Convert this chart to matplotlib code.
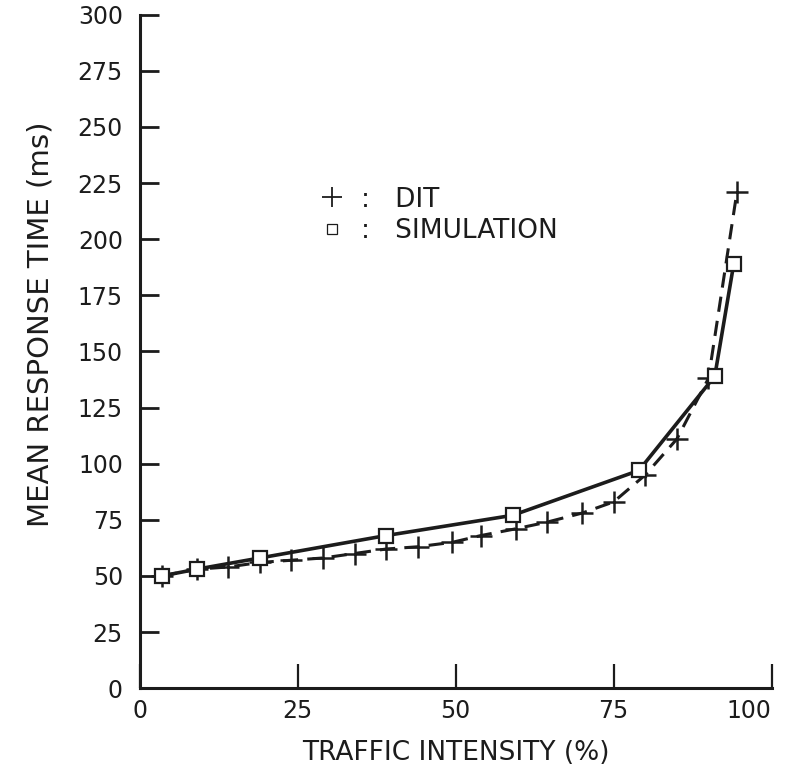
import matplotlib.pyplot as plt
from matplotlib.lines import Line2D

plt.rcParams['font.family'] = ['DejaVu Sans']

# simulation (squares, solid line)
sim_x = [3.5, 9, 19, 39, 59, 79, 91, 94]
sim_y = [50, 53, 58, 68, 77, 97, 139, 189]

# DIT (plus signs, dashed line)
dit_x = [3.5, 9, 14, 19, 24, 29, 34, 39, 44, 49.5, 54, 59.5, 64.5, 70, 75, 80, 85, 90, 94.5]
dit_y = [50, 53, 54, 56, 57, 58, 60, 62, 63, 65, 68, 71, 74, 78, 83, 95, 111, 138, 221]

x_ticks = [0, 25, 50, 75, 100]
y_ticks = [0, 25, 50, 75, 100, 125, 150, 175, 200, 225, 250, 275, 300]

ink = '#1c1c1c'

fig = plt.figure(figsize=(7.98, 7.75), dpi=100)
ax = fig.add_axes([0.175, 0.112, 0.792, 0.869])

ax.plot(dit_x, dit_y, color=ink, linewidth=2.2, dashes=(5, 3),
        marker='+', markersize=16, markeredgewidth=1.8)
ax.plot(sim_x, sim_y, color=ink, linewidth=2.6, linestyle='-',
        marker='s', markersize=10, markerfacecolor='white',
        markeredgecolor=ink, markeredgewidth=1.6)

ax.set_xlim(0, 100)
ax.set_ylim(0, 300)
ax.set_xticks(x_ticks)
ax.set_yticks(y_ticks)

for s in ['top', 'right']:
    ax.spines[s].set_visible(False)
for s in ['left', 'bottom']:
    ax.spines[s].set_linewidth(2.2)
    ax.spines[s].set_color(ink)
    ax.spines[s].set_clip_on(False)

ax.tick_params(axis='y', direction='in', length=14, width=2, colors=ink,
               labelsize=17, pad=12)
ax.tick_params(axis='x', direction='in', length=17, width=1.6, colors=ink,
               labelsize=17, pad=8)
# the 100 label sits a little left of its tick in the original
ax.get_xticklabels()[-1].set_horizontalalignment('right')
ax.get_xticklabels()[-1].set_x(100)

ax.set_xlabel('TRAFFIC INTENSITY (%)', fontsize=19, color=ink, labelpad=12)
ax.set_ylabel('MEAN RESPONSE TIME (ms)', fontsize=21, color=ink)
ax.yaxis.set_label_coords(-0.135, 0.54)

handles = [
    Line2D([], [], color=ink, linestyle='none', marker='+', markersize=14, markeredgewidth=1.3),
    Line2D([], [], color=ink, linestyle='none', marker='s', markersize=7,
           markerfacecolor='white', markeredgewidth=0.9),
]
ax.legend(handles, [':   DIT', ':   SIMULATION'], frameon=False, fontsize=19,
          loc='upper left', bbox_to_anchor=(0.25, 0.78), handlelength=0.8,
          handletextpad=0.7, labelspacing=0.2, labelcolor=ink)

fig.savefig('out.png', dpi=100)
